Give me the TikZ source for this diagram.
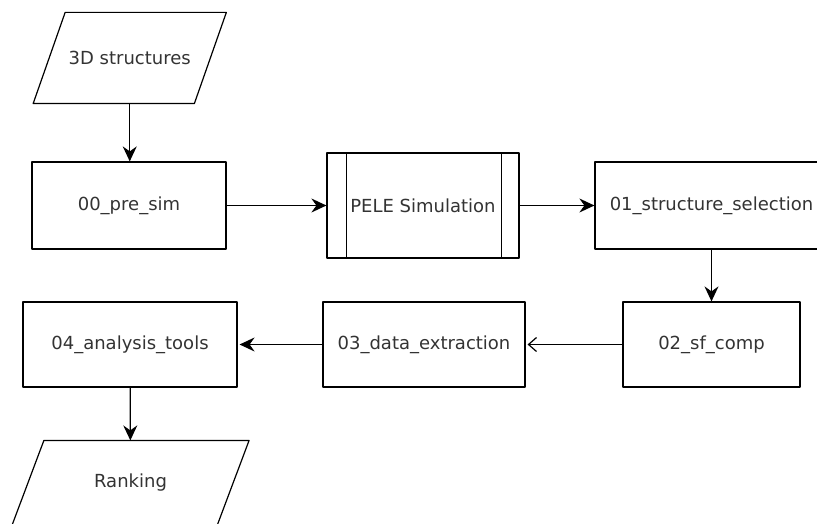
\documentclass[tikz,border=0pt]{standalone}
\usepackage{fontspec}
\setmainfont{DejaVu Sans}
\usetikzlibrary{arrows.meta}
\begin{document}
\begin{tikzpicture}[x=1pt,y=-1pt,line join=round,line width=1.2pt,
		>={Stealth[length=15pt,width=14pt,inset=5pt]},
		font=\fontsize{18}{21}\selectfont,
		box/.style={draw,rectangle,inner sep=0pt,text=black!80},
		io/.style={rectangle,inner sep=0pt,text=black!80,
			append after command={\pgfextra{\let\ionode\tikzlastnode
				\draw ([xshift=16pt]\ionode.north west) -- ([xshift=16pt]\ionode.north east)
				-- ([xshift=-16pt]\ionode.south east) -- ([xshift=-16pt]\ionode.south west) -- cycle;}}}]
	\useasboundingbox (0,0) rectangle (817,524);
	\node[io,minimum width=160pt,minimum height=90pt] (struct) at (129.75,58) {3D structures};
	\node[box,minimum width=194pt,minimum height=87pt] (presim) at (129,205.5) {00\_pre\_sim};
	\node[box,minimum width=192pt,minimum height=105pt] (pele) at (423,205.5) {PELE Simulation};
	\draw ([xshift=20pt]pele.north west) -- ([xshift=20pt]pele.south west);
	\draw ([xshift=-18pt]pele.north east) -- ([xshift=-18pt]pele.south east);
	\node[box,minimum width=233pt,minimum height=87pt] (select) at (711.5,205.5) {01\_structure\_selection};
	\node[box,minimum width=177pt,minimum height=85pt] (sfcomp) at (711.5,344.5) {02\_sf\_comp};
	\node[box,minimum width=202pt,minimum height=85pt] (extract) at (424,344.5) {03\_data\_extraction};
	\node[box,minimum width=214pt,minimum height=85pt] (analysis) at (130,344.5) {04\_analysis\_tools};
	\node[io,minimum width=204pt,minimum height=84pt] (rank) at (130.5,483) {Ranking};
	% connectors
	\draw[->] (struct.south) -- (struct.south |- presim.north);
	\draw[->] (presim) -- (pele);
	\draw[->] (pele) -- (select);
	\draw[->] (select) -- (sfcomp);
	\draw[-{Straight Barb[length=8pt,width=14pt]},shorten >=2pt] (sfcomp) -- (extract);
	\draw[->,shorten >=2pt] (extract) -- (analysis);
	\draw[->] (analysis) -- (rank);
\end{tikzpicture}
\end{document}
